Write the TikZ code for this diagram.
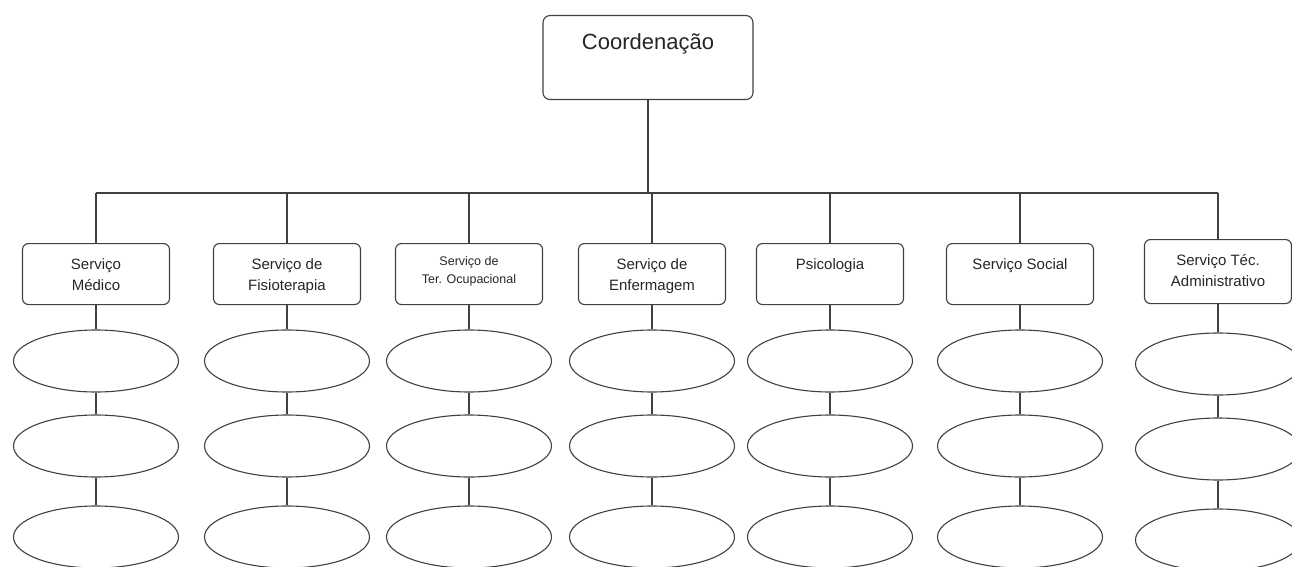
\documentclass[tikz,border=0pt]{standalone}
\usepackage{fontspec}
\setmainfont{Liberation Sans}
\usetikzlibrary{shapes.geometric}

\begin{document}
\begin{tikzpicture}[x=1pt,y=-1pt,line width=1.1pt,draw=black!75,text=black!85,
  chefe/.style={draw,rounded corners=7pt,minimum width=210pt,inner sep=0pt,text height=34pt,text depth=50pt,font=\fontsize{22}{26}\selectfont,anchor=north},
  servico/.style={draw,rounded corners=6pt,minimum width=147pt,inner sep=0pt,align=center,text height=26pt,text depth=35pt,font=\fontsize{15}{21}\selectfont,anchor=north},
  servicodois/.style={servico,text height=47pt,text depth=14pt},
  setor/.style={draw,ellipse,minimum width=165pt,minimum height=62pt,inner sep=0pt}]
  \useasboundingbox (0,0) rectangle (1292,567);
  \node[chefe] (coord) at (648,15) {Coordenação};
  \coordinate (bus) at (648,193);
  \node[servicodois] (med) at (96,243) {Serviço\\Médico};
  \node[servicodois] (fis) at (287,243) {Serviço de\\Fisioterapia};
  \node[servico,font=\fontsize{12.5}{18}\selectfont,text height=40pt,text depth=21pt] (ter) at (469,243) {Serviço de\\Ter. Ocupacional};
  \node[servicodois] (enf) at (652,243) {Serviço de\\Enfermagem};
  \node[servico] (psi) at (830,243) {Psicologia};
  \node[servico] (soc) at (1020,243) {Serviço Social};
  \node[servicodois,text height=47pt,text depth=17pt] (adm) at (1218,239) {Serviço Téc.\\Administrativo};
  \draw (coord) -- (bus);
  \draw (med.north |- bus) -- (adm.north |- bus);
  \foreach \n/\x/\d in {med/96/0,fis/287/0,ter/469/0,enf/652/0,psi/830/0,soc/1020/0,adm/1218/3}{
    \node[setor] (\n1) at (\x,361+\d) {};
    \node[setor] (\n2) at (\x,446+\d) {};
    \node[setor] (\n3) at (\x,537+\d) {};
    \draw (\n.north |- bus) -- (\n) -- (\n1) -- (\n2) -- (\n3);
  }
\end{tikzpicture}
\end{document}
